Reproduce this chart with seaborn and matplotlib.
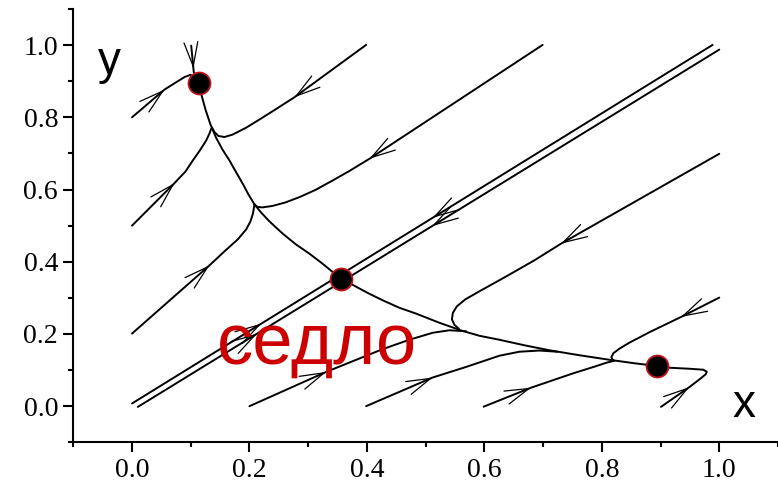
import numpy as np
import pandas as pd
import matplotlib
matplotlib.use("Agg")
import matplotlib.pyplot as plt
from matplotlib.ticker import MultipleLocator
import seaborn as sns

# ---------------- data ----------------
# fixed points: two stable nodes and the saddle
fp_x = [0.1137, 0.3561, 0.8933]
fp_y = [0.8954, 0.3513, 0.1115]

# trajectories, each ordered along the direction of motion
t1_x = [0.0000, 0.0553, 0.0750, 0.0900, 0.1000, 0.1137]
t1_y = [0.8000, 0.8769, 0.8970, 0.9120, 0.9180, 0.8954]

t2_x = [0.1008, 0.1052, 0.1137]
t2_y = [0.9986, 0.9245, 0.8954]

sep_up_x = [0.3561, 0.3418, 0.3226, 0.3021, 0.2791, 0.2567, 0.2340, 0.2204, 0.2085,
            0.1983, 0.1886, 0.1770, 0.1660, 0.1540, 0.1430, 0.1336, 0.1251, 0.1178, 0.1137]
sep_up_y = [0.3513, 0.3715, 0.3970, 0.4224, 0.4481, 0.4777, 0.5118, 0.5353, 0.5588,
            0.5864, 0.6160, 0.6487, 0.6805, 0.7109, 0.7441, 0.7801, 0.8216, 0.8650, 0.8954]

sep_dn_x = [0.3561, 0.3758, 0.4009, 0.4269, 0.4553, 0.4837, 0.5234, 0.5631, 0.5915,
            0.6255, 0.6681, 0.7106, 0.7617, 0.8184, 0.8553, 0.8933]
sep_dn_y = [0.3513, 0.3361, 0.3140, 0.2932, 0.2725, 0.2564, 0.2310, 0.2083, 0.1950,
            0.1840, 0.1687, 0.1549, 0.1411, 0.1272, 0.1189, 0.1115]

t4_x = [0.0000, 0.0723, 0.0911, 0.1035, 0.1149, 0.1263, 0.1319, 0.1348]
t4_y = [0.5000, 0.6177, 0.6501, 0.6805, 0.7068, 0.7358, 0.7552, 0.7682]

t5_x = [0.3986, 0.2766, 0.2426, 0.2170, 0.1949, 0.1716, 0.1574, 0.1472, 0.1404, 0.1362]
t5_y = [1.0006, 0.8556, 0.8202, 0.7939, 0.7718, 0.7524, 0.7455, 0.7483, 0.7593, 0.7718]

t6_x = [0.0000, 0.1319, 0.1574, 0.1801, 0.1944, 0.2017, 0.2060, 0.2085]
t6_y = [0.2011, 0.3900, 0.4288, 0.4620, 0.4896, 0.5118, 0.5339, 0.5588]

t7_x = [0.6992, 0.4043, 0.3702, 0.3418, 0.3123, 0.2851, 0.2613, 0.2391, 0.2221, 0.2136, 0.2085]
t7_y = [1.0006, 0.6852, 0.6515, 0.6252, 0.5989, 0.5790, 0.5643, 0.5546, 0.5505, 0.5519, 0.5588]

a_low_x = [0.0000, 0.3560]
a_low_y = [0.0075, 0.3651]
a_up_x = [0.9886, 0.3560]
a_up_y = [1.0006, 0.3651]

b_low_x = [0.0099, 0.3560]
b_low_y = [-0.0020, 0.3438]
b_up_x = [1.0000, 0.3560]
b_up_y = [0.9876, 0.3438]

t9_x = [1.0000, 0.7306, 0.6851, 0.6374, 0.5915, 0.5677, 0.5532, 0.5464, 0.5447, 0.5489, 0.5566]
t9_y = [0.6990, 0.4501, 0.4039, 0.3596, 0.3181, 0.2960, 0.2766, 0.2586, 0.2407, 0.2254, 0.2144]

t10_x = [1.0000, 0.9348, 0.8809, 0.8468, 0.8298, 0.8196, 0.8162, 0.8196]
t10_y = [0.3007, 0.2470, 0.2047, 0.1757, 0.1591, 0.1466, 0.1355, 0.1259]

t11_x = [0.2000, 0.3306, 0.4264, 0.4723, 0.5120, 0.5404, 0.5689]
t11_y = [0.0000, 0.0949, 0.1577, 0.1840, 0.2033, 0.2102, 0.2075]

t12_x = [0.3986, 0.5120, 0.5689, 0.6255, 0.6596, 0.6936, 0.7243]
t12_y = [0.0000, 0.0794, 0.1087, 0.1397, 0.1508, 0.1541, 0.1508]

t13_x = [0.5988, 0.6795, 0.7503, 0.7872, 0.8077, 0.8213]
t13_y = [-0.0014, 0.0512, 0.0905, 0.1093, 0.1203, 0.1259]

t14_x = [0.9008, 0.9489, 0.9677, 0.9770, 0.9787, 0.9728, 0.9489, 0.9149, 0.8933]
t14_y = [-0.0019, 0.0526, 0.0761, 0.0885, 0.0954, 0.1010, 0.1037, 0.1065, 0.1115]

xtick_vals = [0.0, 0.2, 0.4, 0.6, 0.8, 1.0]
ytick_vals = [0.0, 0.2, 0.4, 0.6, 0.8, 1.0]
tick_labels = ["0.0", "0.2", "0.4", "0.6", "0.8", "1.0"]
saddle_label = "седло"

# ---------------- assemble ----------------
trajs = {
    "t1": (t1_x, t1_y), "t2": (t2_x, t2_y),
    "sep_up": (sep_up_x, sep_up_y), "sep_dn": (sep_dn_x, sep_dn_y),
    "t4": (t4_x, t4_y), "t5": (t5_x, t5_y), "t6": (t6_x, t6_y), "t7": (t7_x, t7_y),
    "a_low": (a_low_x, a_low_y), "a_up": (a_up_x, a_up_y),
    "b_low": (b_low_x, b_low_y), "b_up": (b_up_x, b_up_y),
    "t9": (t9_x, t9_y), "t10": (t10_x, t10_y), "t11": (t11_x, t11_y),
    "t12": (t12_x, t12_y), "t13": (t13_x, t13_y), "t14": (t14_x, t14_y),
}
rows = []
for name, (xs, ys) in trajs.items():
    for i, (x, y) in enumerate(zip(xs, ys)):
        rows.append({"traj": name, "order": i, "x": x, "y": y})
df = pd.DataFrame(rows)
fp_df = pd.DataFrame({"x": fp_x, "y": fp_y})

# arrow heads: (trajectory, approximate tip position)
arrows = [
    ("t1", 0.0553, 0.8769), ("t2", 0.1025, 0.9350), ("t4", 0.0723, 0.6177),
    ("t5", 0.2766, 0.8556), ("t6", 0.1319, 0.3900), ("t7", 0.4043, 0.6852),
    ("a_up", 0.5149, 0.5192), ("b_up", 0.5093, 0.5007),
    ("a_low", 0.2153, 0.2332), ("b_low", 0.2128, 0.2011),
    ("t9", 0.7306, 0.4501), ("t10", 0.9348, 0.2470), ("t11", 0.3306, 0.0949),
    ("t12", 0.5120, 0.0794), ("t13", 0.6795, 0.0512), ("t14", 0.9489, 0.0526),
]

# ---------------- plot ----------------
sns.set_theme(style="ticks")
plt.rcParams["font.family"] = ["Liberation Serif", "DejaVu Serif"]

fig = plt.figure(figsize=(7.78, 4.82), dpi=100)
ax = fig.add_axes([0.0942, 0.0824, 0.9058, 0.8989])

sns.lineplot(data=df, x="x", y="y", units="traj", estimator=None, sort=False,
             color="black", linewidth=1.4, ax=ax, legend=False)


def arrow_on(name, px, py):
    xs, ys = trajs[name]
    pts = np.column_stack([xs, ys]).astype(float)
    p = np.array([px, py])
    best = None
    for i in range(len(pts) - 1):
        a, b = pts[i], pts[i + 1]
        d = b - a
        t = np.clip(np.dot(p - a, d) / np.dot(d, d), 0, 1)
        q = a + t * d
        dist = np.hypot(*(q - p))
        if best is None or dist < best[0]:
            best = (dist, q, d / np.hypot(*d))
    _, q, u = best
    ax.annotate("", xy=q, xytext=q - 0.02 * u,
                arrowprops=dict(arrowstyle="->,head_length=0.87,head_width=0.25",
                                lw=0.9, color="black", shrinkA=0, shrinkB=0,
                                mutation_scale=20))


for name, px, py in arrows:
    arrow_on(name, px, py)

sns.scatterplot(data=fp_df, x="x", y="y", s=250, color="black",
                edgecolor="#c0141c", linewidth=1.3, ax=ax, zorder=5, legend=False)

ax.text(0.1438, 0.119, saddle_label, color="#cc0000", fontsize=52,
        family=["Liberation Sans", "DejaVu Sans"], ha="left", va="baseline", zorder=6)
ax.text(-0.0587, 0.919, "y", color="black", fontsize=33,
        family=["Liberation Sans", "DejaVu Sans"], ha="left", va="baseline")
ax.text(1.022, -0.0304, "x", color="black", fontsize=33,
        family=["Liberation Sans", "DejaVu Sans"], ha="left", va="baseline")

ax.set_xlim(-0.1, 1.1)
ax.set_ylim(-0.1, 1.1)
ax.set_xticks(xtick_vals)
ax.set_xticklabels(tick_labels)
ax.set_yticks(ytick_vals)
ax.set_yticklabels(tick_labels)
ax.xaxis.set_minor_locator(MultipleLocator(0.1))
ax.yaxis.set_minor_locator(MultipleLocator(0.1))
ax.set_xlabel("")
ax.set_ylabel("")
sns.despine(ax=ax)
for s in ("left", "bottom"):
    ax.spines[s].set_linewidth(1.5)
    ax.spines[s].set_color("black")
ax.tick_params(which="major", length=7, width=1.5, labelsize=20, pad=4,
               colors="black", direction="out")
ax.tick_params(which="minor", length=3.5, width=1.5, direction="out", colors="black")
ax.set_facecolor("white")

fig.savefig("out.png", dpi=100)
